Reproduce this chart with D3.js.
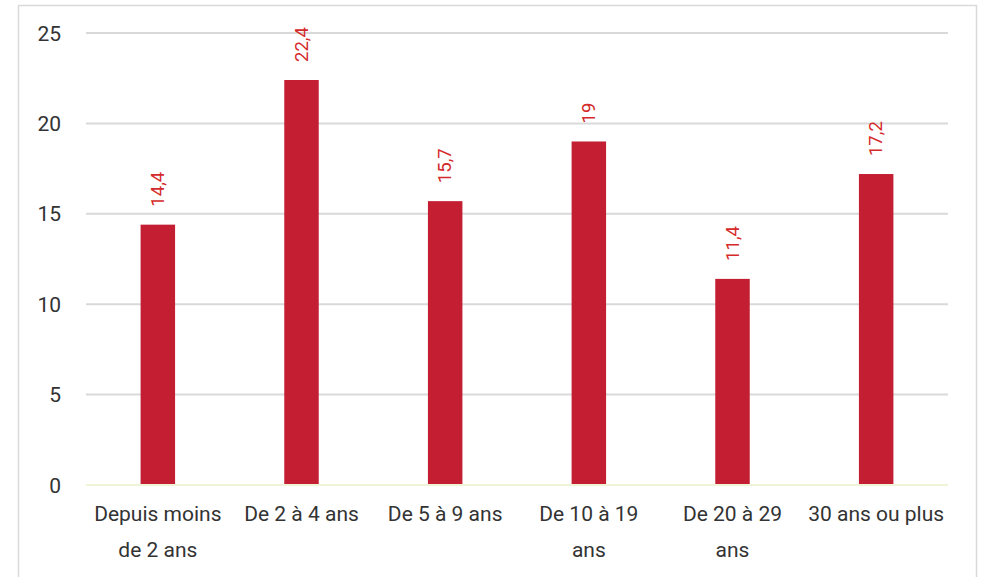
<!DOCTYPE html>
<html>
<head>
<meta charset="utf-8">
<script src="https://cdn.jsdelivr.net/npm/d3@7"></script>
<style>
  body { margin: 0; background: #fff; }
  text { font-family: Roboto, "Noto Sans", sans-serif; }
</style>
</head>
<body>
<svg id="chart" width="982" height="577"></svg>
<script>
    var categories = ["Depuis moins\nde 2 ans", "De 2 à 4 ans", "De 5 à 9 ans",
                      "De 10 à 19\nans", "De 20 à 29\nans", "30 ans ou plus"];
    var values = [14.4, 22.4, 15.7, 19, 11.4, 17.2];
    var yTicks = [0, 5, 10, 15, 20, 25];

    var data = categories.map((c, i) => ({cat: c, value: values[i]}));

    var svg = d3.select("#chart");
    var margin = {top: 33, right: 34, bottom: 92, left: 86},
        width = +svg.attr("width"),
        height = +svg.attr("height");

    // outer frame
    svg.append("rect")
        .attr("x", 18.5).attr("y", 5.5)
        .attr("width", 958).attr("height", 600)
        .attr("fill", "none")
        .attr("stroke", "#d9d9d9")
        .attr("stroke-width", 1.5);

    var x = d3.scaleBand()
        .domain(categories)
        .range([margin.left, width - margin.right])
        .paddingInner(0.76)
        .paddingOuter(0.38);

    var y = d3.scaleLinear()
        .domain([0, 25])
        .range([height - margin.bottom, margin.top]);

    // gridlines
    svg.append("g")
        .selectAll("line")
        .data(yTicks.filter(d => d > 0))
        .join("line")
        .attr("x1", margin.left)
        .attr("x2", width - margin.right)
        .attr("y1", d => y(d))
        .attr("y2", d => y(d))
        .attr("stroke", "#d9d9d9")
        .attr("stroke-width", 2);

    // y labels
    svg.append("g")
        .selectAll("text")
        .data(yTicks)
        .join("text")
        .attr("x", 61)
        .attr("y", d => y(d))
        .attr("dy", "0.36em")
        .attr("text-anchor", "end")
        .attr("font-size", 21)
        .attr("fill", "#333")
        .text(d => d);

    // bars
    svg.append("g")
        .selectAll("rect")
        .data(data)
        .join("rect")
        .attr("x", d => x(d.cat))
        .attr("y", d => y(d.value))
        .attr("width", x.bandwidth())
        .attr("height", d => y(0) - y(d.value))
        .attr("fill", "#c41e33");

    // baseline
    svg.append("line")
        .attr("x1", margin.left)
        .attr("x2", width - margin.right)
        .attr("y1", y(0))
        .attr("y2", y(0))
        .attr("stroke", "#eef4d6")
        .attr("stroke-width", 2);

    // value labels
    var fmt = d => String(d).replace(".", ",");
    svg.append("g")
        .selectAll("text")
        .data(data)
        .join("text")
        .attr("transform", d => `translate(${x(d.cat) + x.bandwidth() / 2 + 6},${y(d.value) - 18}) rotate(-90)`)
        .attr("text-anchor", "start")
        .attr("font-size", 18.5)
        .attr("fill", "#d42a2a")
        .text(d => fmt(d.value));

    // category labels
    var cats = svg.append("g")
        .selectAll("text")
        .data(categories)
        .join("text")
        .attr("text-anchor", "middle")
        .attr("font-size", 21)
        .attr("fill", "#333");

    cats.each(function (c) {
        var t = d3.select(this);
        c.split("\n").forEach((line, i) => {
            t.append("tspan")
                .attr("x", x(c) + x.bandwidth() / 2)
                .attr("y", 521 + i * 36)
                .text(line);
        });
    });
</script>
</body>
</html>
